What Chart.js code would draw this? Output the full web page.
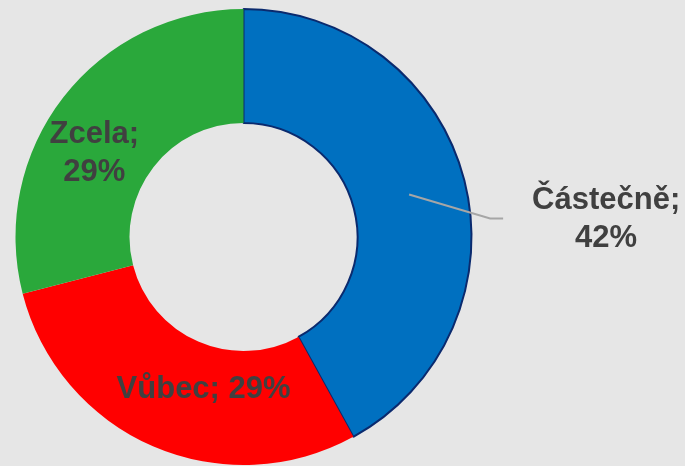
<!DOCTYPE html>
<html>
<head>
<meta charset="utf-8">
<script src="https://cdn.jsdelivr.net/npm/chart.js@4"></script>
<style>
html, body { margin: 0; padding: 0; background: #e6e6e6; }
#wrap { width: 685px; height: 466px; }
</style>
</head>
<body>
<div id="wrap"><canvas id="chart"></canvas></div>
<script>
const categories = ["Částečně", "Vůbec", "Zcela"];
const shares = [42, 29, 29];
const sliceColors = ["#0070c0", "#ff0000", "#2aa83b"];

// label placement tweaks relative to the arc middle (px)
const labelLines = [["Částečně;", "42%"], ["Vůbec; 29%"], ["Zcela;", "29%"]];
const labelShift = [[197, 25], [28, -4], [-14, 21]];

const labelPlugin = {
    id: "sliceLabels",
    afterDatasetsDraw(chart) {
        const ctx = chart.ctx;
        const arcs = chart.getDatasetMeta(0).data;
        ctx.save();
        ctx.font = "bold 31px 'Liberation Sans', Arial, sans-serif";
        ctx.fillStyle = "#404040";
        ctx.textAlign = "center";
        ctx.textBaseline = "middle";
        arcs.forEach(function(arc, i) {
            const mid = (arc.startAngle + arc.endAngle) / 2;
            const r = (arc.innerRadius + arc.outerRadius) / 2;
            const px = arc.x + Math.cos(mid) * r;
            const py = arc.y + Math.sin(mid) * r;
            const tx = px + labelShift[i][0];
            const ty = py + labelShift[i][1];
            if (i === 0) {
                // leader line out to the label
                ctx.strokeStyle = "#a6a6a6";
                ctx.lineWidth = 2;
                ctx.beginPath();
                ctx.moveTo(px, py);
                ctx.lineTo(px + 81, py + 24);
                ctx.lineTo(px + 94, py + 24);
                ctx.stroke();
            }
            const lines = labelLines[i];
            const lh = 38;
            lines.forEach(function(t, k) {
                ctx.fillText(t, tx, ty + (k - (lines.length - 1) / 2) * lh);
            });
        });
        ctx.restore();
    }
};

new Chart(document.getElementById("chart"), {
    type: "doughnut",
    data: {
        labels: categories,
        datasets: [{
            data: shares,
            backgroundColor: sliceColors,
            borderColor: ["#0a2a6e", "#ff0000", "#2aa83b"],
            borderWidth: [2, 0, 0]
        }]
    },
    options: {
        responsive: true,
        maintainAspectRatio: false,
        animation: false,
        cutout: "50%",
        layout: { padding: { left: 14, right: 212, top: 8, bottom: 0 } },
        plugins: {
            legend: { display: false },
            tooltip: { enabled: false }
        }
    },
    plugins: [labelPlugin]
});
</script>
</body>
</html>
